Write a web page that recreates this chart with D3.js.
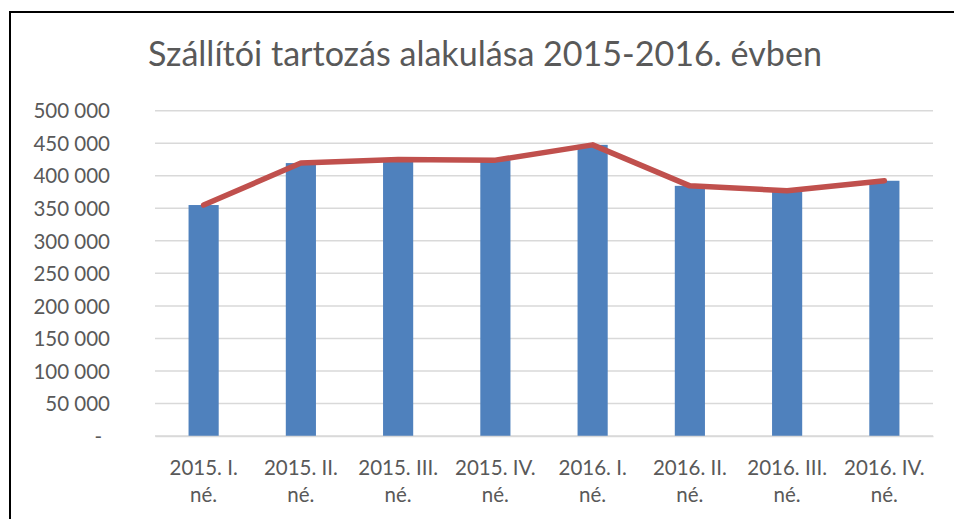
<!DOCTYPE html>
<html><head><meta charset="utf-8">
<script src="https://cdn.jsdelivr.net/npm/d3@7"></script>
<style>body{margin:0;background:#fff}svg{display:block}</style>
</head><body>
<script>
const title = "Szállítói tartozás alakulása 2015-2016. évben";
const categories = [["2015. I.","né."],["2015. II.","né."],["2015. III.","né."],["2015. IV.","né."],["2016. I.","né."],["2016. II.","né."],["2016. III.","né."],["2016. IV.","né."]];
const barValues = [355000, 419500, 425000, 424000, 447500, 384500, 377000, 392300];
const lineValues = [355000, 419500, 425000, 424000, 447500, 384500, 377000, 392300];
const yTicks = [0, 50000, 100000, 150000, 200000, 250000, 300000, 350000, 400000, 450000, 500000];

const W = 954, H = 519;
const svg = d3.select("body").append("svg").attr("width", W).attr("height", H);
const font = "Lato, 'Open Sans', sans-serif";

// border (top and left)
svg.append("line").attr("x1", 10).attr("x2", W).attr("y1", 12).attr("y2", 12).attr("stroke", "#000").attr("stroke-width", 2);
svg.append("line").attr("x1", 10).attr("x2", 10).attr("y1", 11).attr("y2", H).attr("stroke", "#000").attr("stroke-width", 2);

const x = d3.scaleBand().domain(d3.range(categories.length)).range([155, 933]).paddingInner(0.69).paddingOuter(0.345);
const y = d3.scaleLinear().domain([0, 500000]).range([436, 110.7]);

// gridlines
svg.append("g").selectAll("line").data(yTicks).join("line")
  .attr("x1", 155).attr("x2", 933)
  .attr("y1", d => y(d)).attr("y2", d => y(d))
  .attr("stroke", "#D9D9D9").attr("stroke-width", 1.5);

// y axis labels
const fmt = d => d === 0 ? "-" : d3.format(",")(d).replace(/,/g, " ");
const yAxis = d3.axisLeft(y).tickValues(yTicks).tickFormat(fmt).tickSize(0).tickPadding(0);
const gy = svg.append("g").attr("transform", "translate(110,0)").call(yAxis);
gy.select(".domain").remove();
gy.selectAll("text").attr("font-family", font).attr("font-size", 20.5).attr("fill", "#595959").attr("dy", "0.35em");
gy.selectAll(".tick").filter(d => d === 0).select("text").attr("dx", -8);

// bars
svg.append("g").selectAll("rect").data(barValues).join("rect")
  .attr("x", (d, i) => x(i)).attr("width", x.bandwidth())
  .attr("y", d => y(d)).attr("height", d => y(0) - y(d))
  .attr("fill", "#4F81BD");

// x axis
const xAxis = d3.axisBottom(x).tickSize(0).tickFormat("");
const gx = svg.append("g").attr("transform", `translate(0,${y(0)})`).call(xAxis);
gx.select(".domain").attr("stroke", "#D9D9D9").attr("stroke-width", 1.5);
gx.selectAll(".tick").each(function(d) {
  const t = d3.select(this).append("text").attr("font-family", font).attr("font-size", 20.5)
    .attr("fill", "#595959").attr("text-anchor", "middle");
  t.append("tspan").attr("x", 0).attr("y", 39).text(categories[d][0]);
  t.append("tspan").attr("x", 0).attr("y", 66).text(categories[d][1]);
});

// line
const line = d3.line().x((d, i) => x(i) + x.bandwidth() / 2).y(d => y(d));
svg.append("path").datum(lineValues).attr("d", line)
  .attr("fill", "none").attr("stroke", "#C0504D").attr("stroke-width", 5.5)
  .attr("stroke-linejoin", "round").attr("stroke-linecap", "round");

// title
const tt = svg.append("text").attr("x", 485).attr("y", 66).attr("text-anchor", "middle")
  .attr("font-family", font).attr("font-size", 100).attr("fill", "#595959").text(title);
const wTitle = tt.node().getComputedTextLength();
tt.attr("font-size", 100 * 674 / wTitle);
</script>
</body></html>
